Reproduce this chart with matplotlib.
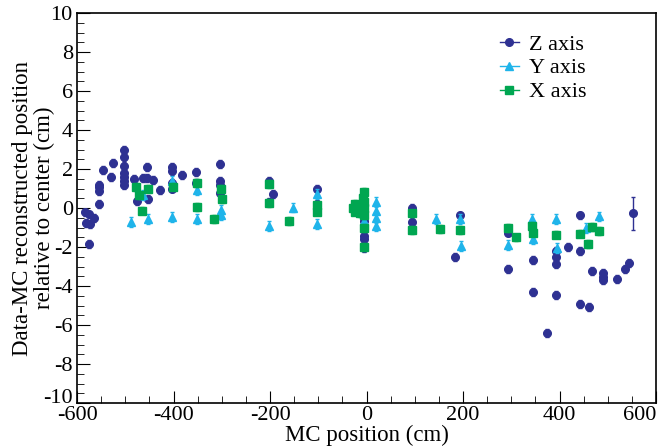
import numpy as np
import matplotlib.pyplot as plt
from matplotlib.ticker import MultipleLocator
from matplotlib.lines import Line2D
from matplotlib.transforms import ScaledTranslation

plt.rcParams['font.family'] = ['Liberation Serif', 'DejaVu Serif']
plt.rcParams['axes.unicode_minus'] = False

# Z axis (dark blue circles)
z_x = [-583, -576, -581, -574, -576, -564, -554, -554, -554, -554, -546, -529, -525,
       -502, -502, -502, -502, -502, -502, -502, -482, -476, -463, -454, -454, -452,
       -443, -428, -403, -403, -403, -403, -382, -354, -354, -303, -303, -303, -303,
       -203, -194, -203, -103, -103, -5, -5, -5, -5, 95, 95,
       194, 184, 294, 294, 344, 344, 374, 393, 393, 393, 393, 417, 442, 442, 442,
       462, 467, 491, 491, 491, 520, 535, 544, 553]
z_y = [-0.23, -0.33, -0.77, -0.82, -1.86, -0.52, 0.22, 0.86, 1.06, 1.2, 1.94, 1.6, 2.29,
       2.98, 2.63, 2.14, 1.8, 1.6, 1.4, 1.2, 1.5, 0.36, 1.55, 2.09, 1.55, 0.46,
       1.45, 0.91, 2.09, 1.89, 1.3, 1.0, 1.7, 1.84, 1.3, 2.25, 1.4, 1.2, 0.76,
       1.4, 0.71, 0.31, 1.0, 0.22, -0.67, -1.46, -1.61, -2.05, 0.02, -0.72,
       -0.38, -2.5, -3.14, -1.26, -2.65, -4.32, -6.4, -2.2, -2.5, -2.89, -4.47, -2.0,
       -0.38, -2.2, -4.92, -5.06, -3.24, -3.34, -3.53, -3.68, -3.63, -3.14, -2.84, -0.28]
z_err = [0.2] * (len(z_x) - 1) + [0.85]

# Y axis (cyan triangles)
y_x = [-488, -463, -452, -403, -403, -352, -352, -301, -301, -203, -153, -103, -103,
       -5, 20, 20, 20, 20, 143, 194, 195, 294, 342, 344, 393, 394, 454, 481]
y_y = [-0.72, 0.66, -0.57, -0.47, 1.4, -0.57, 0.91, -0.38, -0.08, -0.92, 0.02, -0.82, 0.71,
       -0.67, 0.31, -0.13, -0.52, -0.92, -0.57, -0.57, -1.96, -1.91, -0.57, -1.61, -0.57,
       -2.05, -1.02, -0.43]
y_err = [0.25] * len(y_x)

# X axis (green squares)
x_x = [-477, -472, -466, -452, -401, -352, -352, -317, -301, -300,
       -203, -202, -161, -103, -103, -28, -23, -23, -20, -16, -13, -8, -6, -5, -5, -5, -5, -5,
       95, 95, 152, 194, 294, 310, 342, 345, 393, 442, 458, 467, 481]
x_y = [1.06, 0.66, -0.13, 1.0, 1.1, 1.3, 0.07, -0.57, 1.0, 0.46,
       1.25, 0.27, -0.67, 0.17, -0.18, 0.02, 0.22, -0.18, -0.08, 0.12, -0.28, 0.51, 0.81, 0.31,
       0.02, -0.38, -1.02, -2.0, -0.28, -1.12, -1.07, -1.12, -1.02, -1.51, -0.92, -1.26,
       -1.36, -1.31, -1.86, -0.97, -1.17]
x_err = [0.2] * len(x_x)

x_ticks = [-600, -400, -200, 0, 200, 400, 600]
y_ticks = [-10, -8, -6, -4, -2, 0, 2, 4, 6, 8, 10]

c_z = '#2e3192'
c_y = '#1fb4ea'
c_x = '#00a651'

fig = plt.figure(figsize=(6.6, 4.47), dpi=100)
ax = fig.add_axes([0.1167, 0.0984, 0.8773, 0.8725])

ax.errorbar(z_x, z_y, yerr=z_err, fmt='o', color=c_z, ms=5.5, capsize=1.5,
            elinewidth=1, zorder=2)
ax.errorbar(y_x, y_y, yerr=y_err, fmt='^', color=c_y, ms=5.5, capsize=1.5,
            elinewidth=1, zorder=3)
ax.errorbar(x_x, x_y, yerr=x_err, fmt='s', color=c_x, ms=5.5, capsize=1.5,
            elinewidth=1, zorder=4)

ax.set_xlim(-600, 600)
ax.set_ylim(-10, 10)
ax.set_xticks(x_ticks)
ax.set_yticks(y_ticks)
ax.xaxis.set_minor_locator(MultipleLocator(50))
ax.yaxis.set_minor_locator(MultipleLocator(0.5))
ax.tick_params(which='both', direction='in', top=False, right=False, labelsize=16)
ax.tick_params(axis='y', pad=3)
ax.tick_params(axis='x', pad=2.5)
ax.tick_params(which='major', length=9)
ax.tick_params(which='minor', length=5)
for s in ax.spines.values():
    s.set_linewidth(1.2)

# end labels nudged like ROOT does
xl = ax.get_xticklabels()
xl[-1].set_horizontalalignment('right')
yl = ax.get_yticklabels()
yl[0].set_transform(yl[0].get_transform() + ScaledTranslation(0, 7.5 / 100, fig.dpi_scale_trans))

ax.set_xlabel('MC position (cm)', fontsize=16.5, labelpad=-0.5)
ax.set_ylabel('Data-MC reconstructed position\nrelative to center (cm)', fontsize=16.5,
              linespacing=1.05)
ax.yaxis.set_label_coords(-0.038, 0.5)

handles = [Line2D([], [], color=c_z, marker='o', ms=5.5, lw=1),
           Line2D([], [], color=c_y, marker='^', ms=5.5, lw=1),
           Line2D([], [], color=c_x, marker='s', ms=5.5, lw=1)]
labels = ['Z axis', 'Y axis', 'X axis']
ax.legend(handles, labels, loc='upper left', bbox_to_anchor=(0.715, 0.969), frameon=False,
          fontsize=16, handlelength=0.85, handletextpad=0.45, labelspacing=0.15,
          borderaxespad=0)

fig.savefig('out.png', dpi=100)
